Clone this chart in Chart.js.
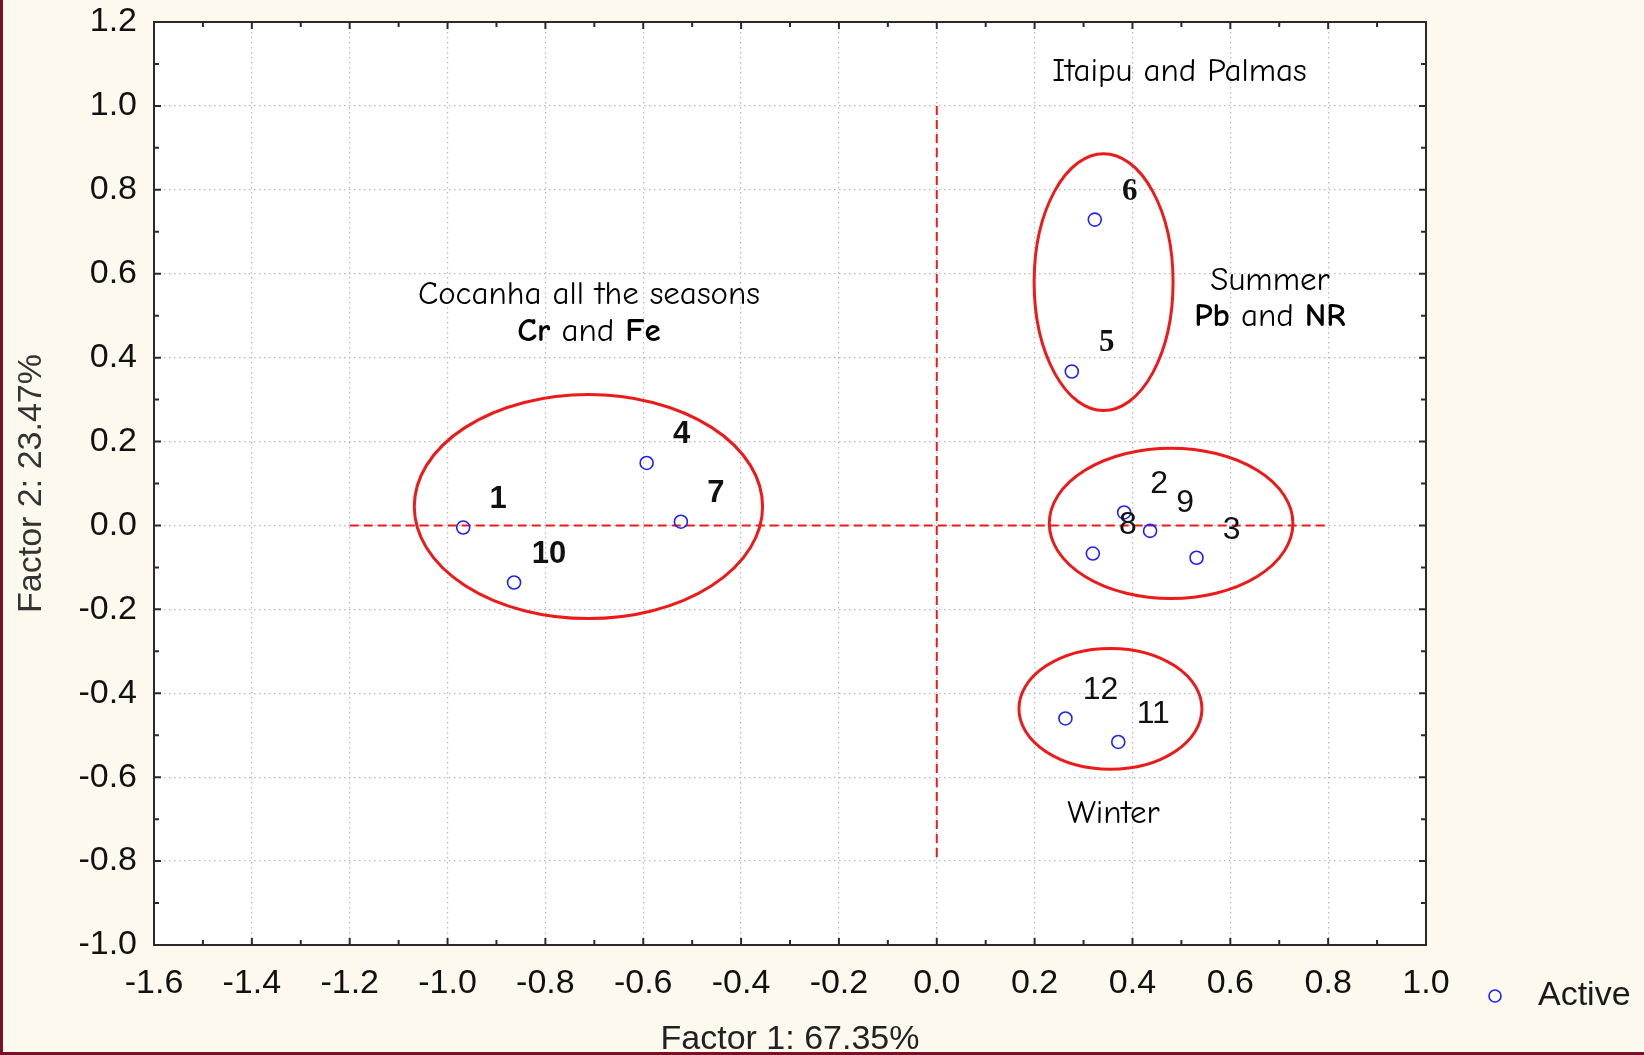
<!DOCTYPE html>
<html>
<head>
<meta charset="utf-8">
<title>Factor plane</title>
<script src="https://cdn.jsdelivr.net/npm/chart.js@4.4.1/dist/chart.umd.min.js"></script>
<style>
  html, body { margin: 0; padding: 0; background: #fef9ef; }
  canvas { display: block; }
</style>
</head>
<body>
<canvas id="factorChart" width="1644" height="1055"></canvas>
<script>
// case numbers with their factor scores
const caseLabels = ['1', '2', '3', '4', '5', '6', '7', '8', '9', '10', '11', '12'];
const factor1 = [-0.968, 0.383, 0.531, -0.593, 0.276, 0.323, -0.523, 0.319, 0.436, -0.864, 0.371, 0.263];
const factor2 = [-0.005, 0.031, -0.077, 0.149, 0.367, 0.729, 0.009, -0.067, -0.013, -0.136, -0.516, -0.460];

// axis ranges
const xRange = [-1.6, 1.0];
const yRange = [-1.0, 1.2];

// dashed cross through the origin
const crossX = [-1.2, 0.8];
const crossY = [1.0, -0.8];

// groups (ellipse centre and half-axes, in factor units)
const ellipseX = [-0.712, 0.341, 0.479, 0.355];
const ellipseY = [0.045, 0.580, 0.005, -0.437];
const ellipseRX = [0.356, 0.142, 0.249, 0.187];
const ellipseRY = [0.267, 0.306, 0.179, 0.144];

// notes written on the plot
const noteX = [0.496, 0.681, 0.681, -0.711, -0.711, 0.361];
const noteY = [1.082, 0.584, 0.497, 0.551, 0.461, -0.688];
const noteText = [
    [['Itaipu and Palmas', false]],
    [['Summer', false]],
    [['Pb', true], [' and ', false], ['NR', true]],
    [['Cocanha all the seasons', false]],
    [['Cr', true], [' and ', false], ['Fe', true]],
    [['Winter', false]]
];

const tickFont = 'Liberation Sans, Arial, sans-serif';
const noteFont = '"Comic Sans MS", "Comic Neue", "DejaVu Sans", sans-serif';
const pointBlue = '#1f1fff';
const groupRed = '#ee1a1a';

// the number labels do not all use the same face
function caseFontFor(label) {
    if (label === '5' || label === '6') return 'bold 31px "Liberation Serif", serif';
    if (['1', '4', '7', '10'].includes(label)) return 'bold 31px ' + tickFont;
    return '32px ' + tickFont;
}

function drawRuns(ctx, runs, cx, cy) {
    let total = 0;
    runs.forEach(r => {
        ctx.font = (r[1] ? 'bold ' : '') + '33px ' + noteFont;
        total += ctx.measureText(r[0]).width;
    });
    let xPos = cx - total / 2;
    runs.forEach(r => {
        ctx.font = (r[1] ? 'bold ' : '') + '33px ' + noteFont;
        ctx.fillText(r[0], xPos, cy);
        xPos += ctx.measureText(r[0]).width;
    });
}

const decorPlugin = {
    id: 'decor',
    beforeDraw(chart) {
        const {ctx, chartArea: a} = chart;
        ctx.save();
        ctx.fillStyle = '#fef9ef';
        ctx.fillRect(0, 0, chart.width, chart.height);
        ctx.fillStyle = '#ffffff';
        ctx.fillRect(a.left, a.top, a.right - a.left, a.bottom - a.top);
        ctx.restore();
    },
    afterDatasetsDraw(chart) {
        const {ctx, chartArea: a} = chart;
        const x = chart.scales.x, y = chart.scales.y;
        ctx.save();

        // group ellipses
        ctx.strokeStyle = groupRed;
        ctx.lineWidth = 3;
        for (let i = 0; i < ellipseX.length; i++) {
            const cx = x.getPixelForValue(ellipseX[i]);
            const cy = y.getPixelForValue(ellipseY[i]);
            const rx = Math.abs(x.getPixelForValue(ellipseX[i] + ellipseRX[i]) - cx);
            const ry = Math.abs(y.getPixelForValue(ellipseY[i] + ellipseRY[i]) - cy);
            ctx.beginPath();
            ctx.ellipse(cx, cy, rx, ry, 0, 0, Math.PI * 2);
            ctx.stroke();
        }

        // case numbers, up and right of each point
        ctx.fillStyle = '#111';
        ctx.textAlign = 'center';
        ctx.textBaseline = 'middle';
        caseLabels.forEach((lab, i) => {
            ctx.font = caseFontFor(lab);
            ctx.fillText(lab, x.getPixelForValue(factor1[i]) + 35, y.getPixelForValue(factor2[i]) - 28);
        });

        // notes
        ctx.fillStyle = '#000';
        ctx.textAlign = 'left';
        noteText.forEach((runs, i) => {
            drawRuns(ctx, runs, x.getPixelForValue(noteX[i]), y.getPixelForValue(noteY[i]));
        });

        // frame
        ctx.strokeStyle = '#2a2a2a';
        ctx.lineWidth = 2;
        ctx.strokeRect(a.left, a.top, a.right - a.left, a.bottom - a.top);

        // inward tick marks, minor every 0.1
        ctx.lineWidth = 2;
        const nx = Math.round((xRange[1] - xRange[0]) / 0.1);
        for (let i = 0; i <= nx; i++) {
            const px = x.getPixelForValue(xRange[0] + i * 0.1);
            const len = i % 2 === 0 ? 7 : 5;
            ctx.beginPath();
            ctx.moveTo(px, a.bottom); ctx.lineTo(px, a.bottom - len);
            ctx.moveTo(px, a.top); ctx.lineTo(px, a.top + len);
            ctx.stroke();
        }
        const ny = Math.round((yRange[1] - yRange[0]) / 0.1);
        for (let i = 0; i <= ny; i++) {
            const py = y.getPixelForValue(yRange[0] + i * 0.1);
            const len = i % 2 === 0 ? 7 : 5;
            ctx.beginPath();
            ctx.moveTo(a.left, py); ctx.lineTo(a.left + len, py);
            ctx.moveTo(a.right, py); ctx.lineTo(a.right - len, py);
            ctx.stroke();
        }

        // legend
        const lx = a.right + 69, ly = a.bottom + 51;
        ctx.strokeStyle = pointBlue;
        ctx.lineWidth = 1.6;
        ctx.beginPath();
        ctx.arc(lx, ly, 6, 0, Math.PI * 2);
        ctx.stroke();
        ctx.fillStyle = '#1a1a1a';
        ctx.font = '34px ' + tickFont;
        ctx.textBaseline = 'middle';
        ctx.fillText('Active', lx + 43, ly);

        ctx.restore();
    },
    afterDraw(chart) {
        const ctx = chart.ctx;
        ctx.save();
        ctx.fillStyle = '#7d0f25';
        ctx.fillRect(0, 0, 3, chart.height);
        ctx.fillRect(0, chart.height - 3, chart.width, 3);
        ctx.restore();
    }
};

const points = caseLabels.map((lab, i) => ({x: factor1[i], y: factor2[i]}));

const chartData = {
    datasets: [
        {
            label: 'Active',
            data: points,
            pointRadius: 6.5,
            pointBorderWidth: 1.6,
            pointBorderColor: pointBlue,
            pointBackgroundColor: 'rgba(0,0,0,0)',
            showLine: false,
            order: 0
        },
        {
            label: 'h',
            data: [{x: crossX[0], y: 0}, {x: crossX[1], y: 0}],
            showLine: true,
            borderColor: groupRed,
            borderWidth: 2,
            borderDash: [9, 5],
            pointRadius: 0,
            order: 1
        },
        {
            label: 'v',
            data: [{x: 0, y: crossY[0]}, {x: 0, y: crossY[1]}],
            showLine: true,
            borderColor: groupRed,
            borderWidth: 2,
            borderDash: [9, 5],
            pointRadius: 0,
            order: 1
        }
    ]
};

const config = {
    type: 'scatter',
    data: chartData,
    options: {
        responsive: false,
        animation: false,
        devicePixelRatio: 1,
        layout: {
            autoPadding: false,
            padding: {left: 0, right: 218, top: 22, bottom: 0}
        },
        plugins: {
            legend: {display: false},
            tooltip: {enabled: false}
        },
        scales: {
            x: {
                type: 'linear',
                min: xRange[0],
                max: xRange[1],
                afterFit: s => {
                    s.height = 110;
                    s.paddingLeft = 0;
                    s.paddingRight = 0;
                },
                ticks: {
                    stepSize: 0.2,
                    padding: 18,
                    color: '#111',
                    font: {family: tickFont, size: 34},
                    callback: v => Number(v).toFixed(1)
                },
                grid: {color: '#b8b8b8', lineWidth: 1.2, drawTicks: false},
                border: {display: false, dash: [1.5, 3.5]},
                title: {
                    display: true,
                    text: 'Factor 1: 67.35%',
                    color: '#222',
                    font: {family: tickFont, size: 34, lineHeight: 0.9},
                    padding: {top: 0, bottom: 0}
                }
            },
            y: {
                type: 'linear',
                min: yRange[0],
                max: yRange[1],
                afterFit: s => {
                    s.width = 154;
                    s.paddingTop = 0;
                    s.paddingBottom = 0;
                },
                ticks: {
                    stepSize: 0.2,
                    padding: 17,
                    color: '#111',
                    font: {family: tickFont, size: 34},
                    callback: v => Number(v).toFixed(1)
                },
                grid: {color: '#b8b8b8', lineWidth: 1.2, drawTicks: false},
                border: {display: false, dash: [1.5, 3.5]},
                title: {
                    display: true,
                    text: 'Factor 2: 23.47%',
                    color: '#333',
                    font: {family: tickFont, size: 34, lineHeight: 1},
                    padding: {top: 15, bottom: 0}
                }
            }
        }
    },
    plugins: [decorPlugin]
};

const chart = new Chart(document.getElementById('factorChart'), config);
</script>
</body>
</html>
